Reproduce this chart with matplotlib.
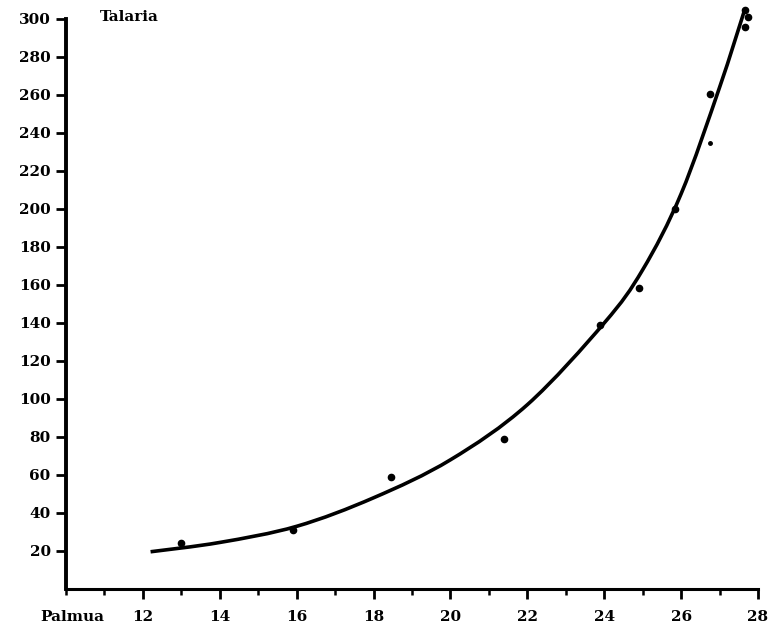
import numpy as np
from matplotlib import pyplot as plt
from matplotlib.path import Path
from matplotlib.patches import PathPatch
from matplotlib.ticker import MultipleLocator

# observed points (palmua, talaria)
obs_x = [13.0, 15.9, 18.45, 21.4, 23.9, 24.9, 25.85, 26.75, 27.67, 27.73, 27.65]
obs_y = [24, 31, 59, 79, 139, 158.5, 200, 260.5, 305, 301, 296]
# small dot near the curve
small_x = [26.75]
small_y = [234.6]

# fitted curve
curve_x = [12.2, 14.0, 16.0, 18.0, 20.0, 22.0, 24.0, 25.0, 26.0, 27.0, 27.64]
curve_y = [19.6, 24.5, 33.0, 48.0, 68.0, 97.0, 140.0, 168.0, 208.0, 264.0, 304.0]

x_ticks = [12, 14, 16, 18, 20, 22, 24, 26, 28]
y_ticks = list(range(20, 301, 20))


def smooth_path(xs, ys):
    # catmull-rom through the read points, as cubic bezier segments
    p = np.column_stack([xs, ys])
    verts = [p[0]]
    codes = [Path.MOVETO]
    for i in range(len(p) - 1):
        p0 = p[i - 1] if i > 0 else p[i]
        p1 = p[i]
        p2 = p[i + 1]
        p3 = p[i + 2] if i + 2 < len(p) else p[i + 1]
        c1 = p1 + (p2 - p0) / 6
        c2 = p2 - (p3 - p1) / 6
        verts += [c1, c2, p2]
        codes += [Path.CURVE4] * 3
    return Path(verts, codes)


plt.rcParams['font.family'] = ['DejaVu Serif']
plt.rcParams['font.weight'] = 'bold'

fig = plt.figure(figsize=(7.8, 6.28), dpi=100)
ax = fig.add_axes([66 / 780, 39 / 628, 692 / 780, 570 / 628])

ax.add_patch(PathPatch(smooth_path(curve_x, curve_y), facecolor='none',
                       edgecolor='black', linewidth=2.6, clip_on=False))
ax.plot(obs_x, obs_y, 'o', color='black', markersize=4.5, clip_on=False)
ax.plot(small_x, small_y, 'o', color='black', markersize=2.5)

ax.set_xlim(10, 28)
ax.set_ylim(0, 300)

for s in ['top', 'right']:
    ax.spines[s].set_visible(False)
ax.spines['left'].set_linewidth(2.8)
ax.spines['bottom'].set_linewidth(2.2)

ax.set_xticks(x_ticks)
ax.xaxis.set_minor_locator(MultipleLocator(1))
ax.set_yticks(y_ticks)
ax.tick_params(axis='x', which='major', direction='out', length=7, width=2,
               pad=8, labelsize=11)
ax.tick_params(axis='x', which='minor', direction='out', length=4.5, width=1.8)
ax.tick_params(axis='y', which='major', direction='out', length=7, width=2,
               pad=4, labelsize=11)
for lab in ax.get_xticklabels() + ax.get_yticklabels():
    lab.set_fontweight('bold')

fig.text(100 / 780, 1 - 17 / 628, 'Talaria', fontsize=11, fontweight='bold',
         ha='left', va='center')
fig.text(40 / 780, 1 - 617 / 628, 'Palmua', fontsize=11, fontweight='bold',
         ha='left', va='center')

fig.savefig('out.png', dpi=100)
